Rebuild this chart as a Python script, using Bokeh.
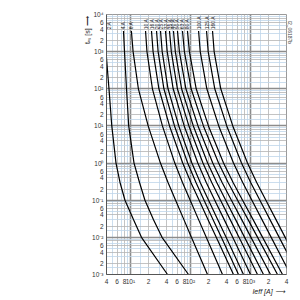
import math
from bokeh.plotting import figure
from bokeh.models import Range1d, FixedTicker, Grid, Title
from bokeh.core.properties import value
from bokeh.embed import file_html
from bokeh.resources import INLINE

# time levels (s) shared by all curves
t_s = [3600, 1000, 100, 10, 1, 0.3, 0.1, 0.03, 0.01, 0.001]

# pre-arcing current (A) of each fuse rating at the times above
i_2A = [3.70, 3.92, 4.40, 4.90, 5.76, 6.72, 8.13, 11.3, 15.3, 41.6]
i_4A = [7.68, 7.98, 8.62, 9.38, 11.5, 14.2, 17.5, 24.3, 33.7, 93.0]
i_6A = [10.4, 11.1, 13.6, 19.8, 31.7, 42.4, 56.7, 78.0, 104, 193]
i_10A = [17.9, 18.9, 23.3, 34.2, 55.0, 73.9, 99.3, 137, 184, 343]
i_16A = [22.5, 23.9, 29.9, 44.9, 74.5, 102, 140, 197, 270, 523]
i_20A = [27.3, 29.0, 36.2, 54.4, 90.2, 124, 169, 239, 328, 634]
i_25A = [31.8, 33.9, 42.4, 64.1, 106, 146, 201, 286, 394, 768]
i_32A = [38.5, 41.1, 51.7, 78.9, 133, 184, 255, 366, 508, 1005]
i_35A = [44.9, 48.1, 60.8, 94.5, 162, 227, 318, 461, 646, 1314]
i_40A = [52.3, 56.1, 71.4, 112, 194, 275, 388, 567, 801, 1655]
i_50A = [61.0, 65.6, 84.2, 134, 236, 338, 483, 717, 1024, 2165]
i_63A = [73.9, 79.5, 103, 165, 295, 425, 612, 916, 1320, 2832]
i_80A = [89.5, 96.3, 125, 200, 357, 515, 741, 1110, 1599, 3431]
i_100A = [137, 146, 188, 297, 523, 745, 1060, 1562, 2224, 4665]
i_125A = [186, 198, 255, 404, 711, 1012, 1441, 2123, 3022, 6340]
i_160A = [234, 249, 321, 509, 895, 1274, 1814, 2673, 3804, 7982]

ratings = ["2 A", "4 A", "6 A", "10 A", "16 A", "20 A", "25 A", "32 A", "35 A",
           "40 A", "50 A", "63 A", "80 A", "100 A", "125 A", "160 A"]
curves = [i_2A, i_4A, i_6A, i_10A, i_16A, i_20A, i_25A, i_32A, i_35A,
          i_40A, i_50A, i_63A, i_80A, i_100A, i_125A, i_160A]

x_ticks = [4, 6, 8, 10, 20, 40, 60, 80, 100, 200, 400, 600, 800, 1000, 2000, 4000]
x_labels = ["4", "6", "8", "10\u00b9", "2", "4", "6", "8", "10\u00b2", "2", "4", "6", "8",
            "10\u00b3", "2", "4"]
y_ticks = [0.001, 0.002, 0.004, 0.006, 0.01, 0.02, 0.04, 0.06, 0.1, 0.2, 0.4, 0.6,
           1, 2, 4, 6, 10, 20, 40, 60, 100, 200, 400, 600, 1000, 2000, 4000, 6000, 10000]
y_labels = ["10\u207b\u00b3", "2", "4", "6", "10\u207b\u00b2", "2", "4", "6",
            "10\u207b\u00b9", "2", "4", "6", "10\u2070", "2", "4", "6",
            "10\u00b9", "2", "4", "6", "10\u00b2", "2", "4", "6",
            "10\u00b3", "2", "4", "6", "10\u2074"]

FONT = "Liberation Sans"

p = figure(width=300, height=300, x_axis_type="log", y_axis_type="log",
           x_range=Range1d(4, 4000), y_range=Range1d(1e-3, 1e4),
           output_backend="svg", toolbar_location=None,
           min_border_left=106, min_border_right=14, min_border_top=14,
           min_border_bottom=26)
p.background_fill_color = "white"
p.border_fill_color = "white"
p.outline_line_color = "#9a9a9a"
p.outline_line_width = 1
p.grid.visible = False


def grid_vals(lo_exp, hi_exp, mults, lo, hi):
    out = []
    for e in range(lo_exp, hi_exp + 1):
        for m in mults:
            v = m * 10 ** e
            if lo <= v <= hi:
                out.append(v)
    return out


blue = "#bfd5ea"
gray = "#b4b4b4"
major = "#8c8c8c"
for dim, lo_e, hi_e, lo, hi in [(0, 0, 3, 4, 4000), (1, -3, 4, 1e-3, 1e4)]:
    g1 = Grid(dimension=dim, ticker=FixedTicker(ticks=grid_vals(lo_e, hi_e, [1.5, 3, 5, 7, 9], lo, hi)),
              grid_line_color=blue, grid_line_width=0.8)
    g2 = Grid(dimension=dim, ticker=FixedTicker(ticks=grid_vals(lo_e, hi_e, [2, 4, 6, 8], lo, hi)),
              grid_line_color=gray, grid_line_width=0.8)
    g3 = Grid(dimension=dim, ticker=FixedTicker(ticks=grid_vals(lo_e, hi_e, [1], lo, hi)),
              grid_line_color=major, grid_line_width=1.6)
    for g in (g1, g2, g3):
        p.add_layout(g)

for ax, ticks, labels in [(p.xaxis, x_ticks, x_labels), (p.yaxis, y_ticks, y_labels)]:
    ax.ticker = FixedTicker(ticks=ticks)
    ax.major_label_overrides = {v: s for v, s in zip(ticks, labels)}
    ax.major_tick_line_color = None
    ax.minor_tick_line_color = None
    ax.major_tick_out = 0
    ax.major_tick_in = 0
    ax.minor_tick_out = 0
    ax.minor_tick_in = 0
    ax.axis_line_color = "#555555"
    ax.axis_line_width = 1
    ax.major_label_text_font = FONT
    ax.major_label_text_font_size = "6.5px"
    ax.major_label_text_color = "#333333"
    ax.major_label_standoff = 3

for cur in curves:
    p.line(x=cur, y=t_s, line_color="black", line_width=1.2)

label_x = [next(v for v in cur if v >= 4) for cur in curves]
p.text(x=label_x, y=[4000] * len(ratings), text=ratings, angle=math.pi / 2,
       text_align="left", text_baseline="middle", text_font=value(FONT),
       text_font_size="5px", text_color="#222222")

# axis titles and drawing number as side-panel titles
p.add_layout(Title(text="t\u1d65\u209b [s]  \u27f6", align="right", standoff=-3,
                   text_font=FONT, text_font_size="7px", text_font_style="normal",
                   text_color="#222222"), "left")
p.add_layout(Title(text="Ieff [A]  \u27f6", align="right", standoff=-4,
                   text_font=FONT, text_font_size="7px", text_font_style="italic",
                   text_color="#222222"), "below")
p.add_layout(Title(text="I2_06187b", align="left", offset=6, standoff=1,
                   text_font=FONT, text_font_size="5px", text_font_style="normal",
                   text_color="#444444"), "right")

open("out.html", "w").write(file_html(p, INLINE))
